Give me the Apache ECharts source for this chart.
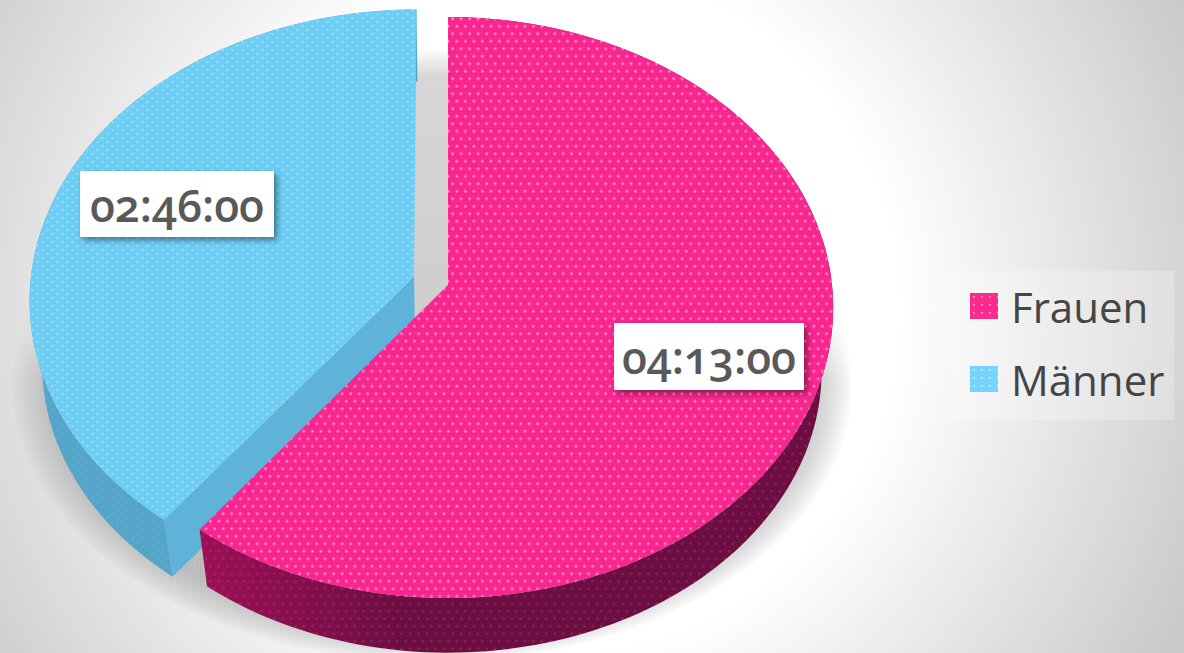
<!DOCTYPE html>
<html><head><meta charset="utf-8">
<style>html,body{margin:0;padding:0;overflow:hidden}#c{width:1184px;height:653px}
#c text{font-feature-settings:"onum" 1 !important;font-variant-numeric:oldstyle-nums !important}</style>
<script src="https://cdn.jsdelivr.net/npm/echarts@6/dist/echarts.min.js"></script></head>
<body><div id="c"></div>
<script>
const categories=['Frauen','Männer'];
const durations=['04:13:00','02:46:00'];
const minutes=[253,166];
const explode=[0,0.0935];
const total=minutes[0]+minutes[1];

const P={x0:448,y0:285,bx:384,ay:288.8,k:-0.0775};
const DEPTH=64,SHRINK=0.97;
function proj(u,v,low){
  const w=1+P.k*v,s=low?SHRINK:1;
  return [P.x0+s*P.bx*u/w, P.y0+(low?DEPTH:0)+s*P.ay*v/w];
}
function pat(base,dot,w,h,r,dots){
  const c=document.createElement('canvas');c.width=w;c.height=h;
  const g=c.getContext('2d');g.fillStyle=base;g.fillRect(0,0,w,h);
  dots.forEach(p=>{const x=p[0]*w,y=p[1]*h;
    const rg=g.createRadialGradient(x,y,0,x,y,r);
    rg.addColorStop(0,dot);rg.addColorStop(1,base);
    g.fillStyle=rg;g.fillRect(x-r,y-r,2*r,2*r);});
  return {image:c.toDataURL(),repeat:'repeat',imageWidth:w,imageHeight:h};
}
const FOUR=[[.125,.25],[.625,.25],[.375,.75],[.875,.75]],TWO=[[.25,.25],[.75,.75]],ONE=[[.5,.5]];
const topFill=[pat('#f8268e','#ffa0d2',17,15,2.2,FOUR),pat('#6dcdf5','#a8e8fc',10,8,1.7,TWO)];
const wallFill=[pat('#6c0e41','#8e2b64',17,15,2.0,FOUR),pat('#55a5c9','#62b0d3',10,8,1.6,TWO)];
const faceFill='#5fb2d8';
const legendFill=[pat('#fb2b8e','#ffffff',8,8,1.3,ONE),pat('#76d3fc','#ffffff',8,8,1.3,ONE)];

function arc(a0,a1,off,low){
  const n=Math.max(4,Math.ceil((a1-a0)*40)),pts=[];
  for(let i=0;i<=n;i++){const a=a0+(a1-a0)*i/n;
    pts.push(proj(Math.sin(a)+off[0],-Math.cos(a)+off[1],low));}
  return pts;
}
function renderSlice(idx){
  return function(params,api){
    const a0=api.value(0)/total*2*Math.PI,a1=api.value(1)/total*2*Math.PI,e=api.value(2);
    const mid=(a0+a1)/2,off=[e*Math.sin(mid),-e*Math.cos(mid)];
    const c=proj(off[0],off[1],false),cl=proj(off[0],off[1],true);
    const top=arc(a0,a1,off,false),bot=arc(a0,a1,off,true);
    const wall=top.concat(bot.slice().reverse());
    const kids=[{type:'polygon',shape:{points:wall},style:{fill:wallFill[idx]}}];
    if(idx===0){
      kids.push({type:'polygon',shape:{points:wall},style:{fill:{type:'linear',x:200,y:0,x2:400,y2:0,global:true,colorStops:[{offset:0,color:'rgba(255,20,130,0.33)'},{offset:1,color:'rgba(255,20,130,0)'}]}}});
    }
    if(e>0){const t=top[0],b=bot[0];
      kids.push({type:'polygon',shape:{points:[c,t,b,cl]},style:{fill:faceFill}});}
    kids.push({type:'polygon',shape:{points:[c].concat(top)},style:{fill:topFill[idx]}});
    return {type:'group',children:kids};
  };
}
function renderLabel(idx,x,y,w,h){
  return function(params,api){
    return {type:'group',children:[
      {type:'rect',shape:{x:x,y:y,width:w,height:h},style:{fill:'#fff',shadowBlur:6,shadowOffsetX:3,shadowOffsetY:3,shadowColor:'rgba(0,0,0,0.45)'}},
      {type:'text',style:{x:x+w/2,y:y+h/2,text:durations[idx],fill:'#595959',font:'600 44.5px "Open Sans"',align:'center',verticalAlign:'middle'}}
    ]};
  };
}
function renderBack(){
  const kids=[];
  const n=24;
  for(let i=0;i<n;i++){
    const t=i/(n-1);
    kids.push({type:'ellipse',shape:{cx:432,cy:385,rx:372+48*t,ry:245+32*t},style:{fill:{type:'linear',x:0,y:0,x2:0,y2:1,colorStops:[{offset:0.35,color:'rgba(150,150,150,0)'},{offset:0.49,color:'rgba(150,150,150,0.035)'},{offset:1,color:'rgba(150,150,150,0.035)'}]}}});
  }
  kids.push({type:'rect',shape:{x:412,y:48,width:38,height:285},style:{fill:{type:'linear',x:0,y:0,x2:0,y2:1,colorStops:[{offset:0,color:'rgba(205,205,205,0)'},{offset:0.1,color:'rgba(205,205,205,0.8)'},{offset:1,color:'rgba(205,205,205,1)'}]}}});
  return {type:'group',children:kids};
}
const series=[
 {type:'custom',coordinateSystem:'none',silent:true,z:1,renderItem:renderBack,data:[[0]]},
 {type:'custom',name:categories[1],coordinateSystem:'none',silent:true,z:2,itemStyle:{color:legendFill[1]},renderItem:renderSlice(1),data:[[minutes[0],total,explode[1]]]},
 {type:'custom',name:categories[0],coordinateSystem:'none',silent:true,z:3,itemStyle:{color:legendFill[0]},renderItem:renderSlice(0),data:[[0,minutes[0],explode[0]]]},
 {type:'custom',coordinateSystem:'none',silent:true,z:5,renderItem:renderLabel(1,80,171,194,66),data:[[0]]},
 {type:'custom',coordinateSystem:'none',silent:true,z:5,renderItem:renderLabel(0,614,323,190,67),data:[[0]]}
];
const chart=echarts.init(document.getElementById('c'),null,{renderer:'svg',width:1184,height:653});
chart.setOption({
 animation:false,
 backgroundColor:{type:'radial',x:560,y:310,r:700,global:true,colorStops:[{offset:0,color:'#ffffff'},{offset:0.486,color:'#ffffff'},{offset:1,color:'#c9c9c9'}]},
 legend:{data:categories,icon:'rect',orient:'vertical',left:950,top:271,padding:[14,10,20,20],itemGap:31,itemWidth:28,itemHeight:26,itemStyle:{borderWidth:0},
  backgroundColor:'rgba(255,255,255,0.25)',selectedMode:false,
  textStyle:{fontSize:42,color:'#454545',fontFamily:'"Open Sans"',padding:[0,0,0,8]}},
 series:series
});
</script></body></html>
